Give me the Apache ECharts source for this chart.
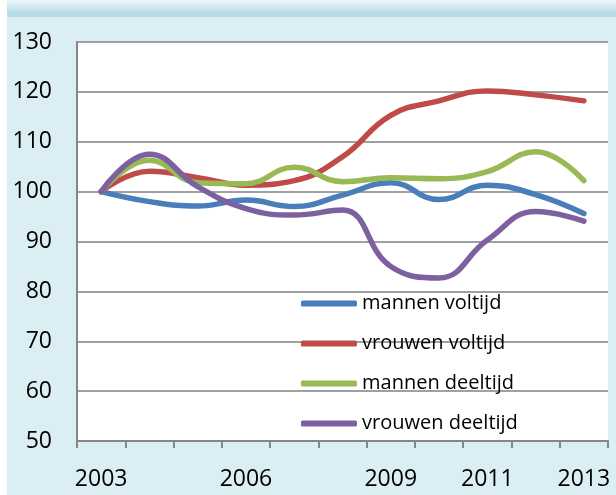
<!DOCTYPE html>
<html>
<head>
<meta charset="utf-8">
<script src="https://cdn.jsdelivr.net/npm/echarts@6/dist/echarts.min.js"></script>
<style>
html, body { margin: 0; padding: 0; background: #fff; }
#chart { width: 616px; height: 495px; }
</style>
</head>
<body>
<div id="chart"></div>
<script>
// index 2003 = 100
var years = ['2003', '2004', '2005', '2006', '2007', '2008', '2009', '2010', '2011', '2012', '2013'];
var shownYears = ['2003', '2006', '2009', '2011', '2013'];

var mannenVoltijd  = [100, 98.0, 97.1, 98.3, 97.0, 99.3, 101.8, 98.4, 101.3, 99.4, 95.6];
var vrouwenVoltijd = [100, 104.1, 102.8, 101.3, 102.2, 107.0, 115.3, 118.2, 120.2, 119.4, 118.2];
var mannenDeeltijd = [100, 106.3, 101.8, 101.6, 104.9, 102.0, 102.8, 102.6, 104.0, 108.0, 102.2];
var vrouwenDeeltijd = [100, 107.5, 101.0, 96.6, 95.3, 96.3, 85.0, 82.7, 90.3, 96.0, 94.1];

var seriesNames = ['mannen voltijd', 'vrouwen voltijd', 'mannen deeltijd', 'vrouwen deeltijd'];
var colors = ['#4a7ebb', '#be4b48', '#98b954', '#7d60a0'];

var chart = echarts.init(document.getElementById('chart'));

function line(name, data, color) {
	return {
		name: name,
		type: 'line',
		data: data,
		smooth: 0.45,
		symbol: 'none',
		color: color,
		lineStyle: { width: 5.5, color: color, cap: 'round' }
	};
}

var option = {
	backgroundColor: '#daeef3',
	animation: false,
	graphic: [
		{ type: 'rect', left: 0, top: 0, shape: { width: 7, height: 495 }, style: { fill: '#ffffff' }, silent: true },
		{
			type: 'rect', left: 7, top: 0, shape: { width: 609, height: 17 }, silent: true,
			style: {
				fill: new echarts.graphic.LinearGradient(0, 0, 0, 1, [
					{ offset: 0, color: '#eef7fa' },
					{ offset: 0.75, color: '#b7dde7' },
					{ offset: 1, color: '#b5dce6' }
				])
			}
		}
	],
	grid: {
		left: 77, right: 8, top: 42, bottom: 54,
		show: true, backgroundColor: '#ffffff', borderWidth: 0
	},
	legend: {
		orient: 'vertical',
		left: 301, top: 292,
		padding: 0,
		icon: 'roundRect',
		itemWidth: 56, itemHeight: 6, itemGap: 17,
		data: seriesNames,
		textStyle: { fontFamily: 'Open Sans', fontSize: 20, color: '#000', lineHeight: 23 }
	},
	xAxis: {
		type: 'category',
		data: years,
		boundaryGap: true,
		axisLine: { lineStyle: { color: '#868686', width: 2 } },
		axisTick: { show: true, interval: 0, length: 7, lineStyle: { color: '#868686', width: 2 } },
		axisLabel: {
			interval: function (index, value) { return shownYears.indexOf(value) >= 0; },
			margin: 27,
			fontFamily: 'Open Sans', fontSize: 23, color: '#000'
		},
		splitLine: { show: false }
	},
	yAxis: {
		type: 'value',
		min: 50, max: 130, interval: 10,
		axisLine: { show: true, lineStyle: { color: '#868686', width: 2 } },
		axisTick: { show: false },
		axisLabel: { margin: 25, fontFamily: 'Open Sans', fontSize: 23, color: '#000' },
		splitLine: { lineStyle: { color: '#a0a0a0', width: 2 } }
	},
	series: [
		line(seriesNames[0], mannenVoltijd, colors[0]),
		line(seriesNames[1], vrouwenVoltijd, colors[1]),
		line(seriesNames[2], mannenDeeltijd, colors[2]),
		line(seriesNames[3], vrouwenDeeltijd, colors[3])
	]
};

chart.setOption(option);
</script>
</body>
</html>
